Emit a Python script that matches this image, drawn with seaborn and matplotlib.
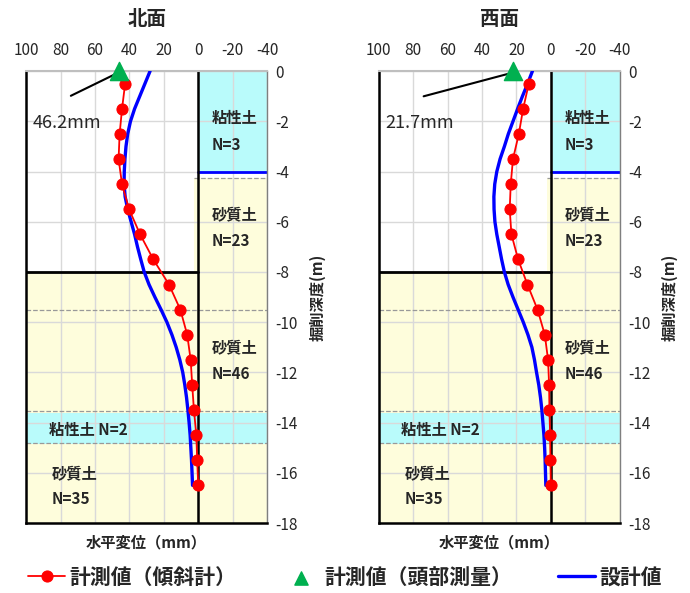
"""Inclinometer horizontal displacement vs. excavation depth (north / west faces)."""

import matplotlib.pyplot as plt
import pandas as pd
import seaborn as sns

# measured depth points (m)
depth = [-0.5, -1.5, -2.5, -3.5, -4.5, -5.5, -6.5, -7.5, -8.5,
         -9.5, -10.5, -11.5, -12.5, -13.5, -14.5, -15.5, -16.5]
north_meas = [42.5, 44.3, 45.7, 46.3, 44.3, 40.2, 33.8, 26.1, 17.0,
              10.4, 6.4, 4.4, 3.5, 2.5, 1.1, 0.6, 0.0]
west_meas = [12.8, 16.1, 18.6, 22.0, 23.3, 23.9, 22.9, 19.0, 13.6,
             7.7, 3.5, 1.6, 1.0, 0.8, 0.4, 0.2, 0.0]

# design curve, read every 0.5 m
design_depth = [0, -0.5, -1, -1.5, -2, -2.5, -3, -3.5, -4, -4.5, -5, -5.5,
                -6, -6.5, -7, -7.5, -8, -8.5, -9, -9.5, -10, -10.5, -11,
                -11.5, -12, -12.5, -13, -13.5, -14, -14.5, -15, -15.5, -16,
                -16.5]
north_design = [28.0, 31.0, 34.0, 37.0, 39.4, 41.0, 42.0, 42.6, 43.0, 43.1,
                42.5, 41.0, 39.0, 37.0, 35.3, 33.4, 31.4, 28.6, 25.2, 21.6,
                18.2, 15.3, 12.8, 10.7, 9.0, 7.8, 6.8, 6.0, 5.3, 4.7, 4.3,
                3.9, 3.6, 3.3]
west_design = [10.7, 13.5, 16.5, 19.3, 22.0, 24.7, 27.0, 29.5, 31.4, 32.6,
               33.1, 33.0, 32.5, 31.4, 30.0, 28.6, 27.0, 24.8, 22.0, 19.0,
               16.0, 13.3, 11.0, 9.5, 8.3, 7.0, 6.0, 5.2, 4.6, 4.0, 3.6,
               3.3, 3.1, 2.9]

# head survey
north_head = 46.2
west_head = 21.7

faces = ["北面", "西面"]
x_ticks = [100, 80, 60, 40, 20, 0, -20, -40]
y_ticks = [0, -2, -4, -6, -8, -10, -12, -14, -16, -18]

# soil layer labels: (x, y, text)
soil_labels = [
    (-8, -1.85, "粘性土"), (-8, -2.95, "N=3"),
    (-8, -5.75, "砂質土"), (-8, -6.75, "N=23"),
    (-8, -11.05, "砂質土"), (-8, -12.05, "N=46"),
    (87, -14.3, "粘性土 N=2"),
    (85, -16.05, "砂質土"), (85, -17.05, "N=35"),
]

sns.set_theme(style="white")
plt.rcParams["font.family"] = ["Noto Sans CJK JP", "DejaVu Sans"]
plt.rcParams["axes.unicode_minus"] = False

CYAN = "#b9fbfb"
YELLOW = "#fefddc"

fig = plt.figure(figsize=(6.9, 5.93), dpi=100)
ax_l = fig.add_axes([0.038, 0.118, 0.349, 0.762])
ax_r = fig.add_axes([0.549, 0.118, 0.349, 0.762])

panels = [
    (ax_l, north_meas, north_design, north_head),
    (ax_r, west_meas, west_design, west_head),
]

for i, (ax, meas, design, head) in enumerate(panels):
    # soil backgrounds
    ax.fill_between([0, -40], 0, -4, color=CYAN, zorder=0, lw=0)
    ax.fill_between([2.5, -40], -4.25, -18, color=YELLOW, zorder=0, lw=0)
    ax.fill_between([100, 0], -8, -18, color=YELLOW, zorder=0, lw=0)
    ax.fill_between([100, -40], -13.6, -14.85, color=CYAN, zorder=0.2, lw=0)
    for yy in (-9.5, -13.55, -14.8):
        ax.plot([100, -40], [yy, yy], ls="--", lw=0.9, color="#999999", zorder=1)
    ax.plot([2.5, -40], [-4.25, -4.25], ls="--", lw=0.9, color="#999999", zorder=1)
    ax.plot([0, -40], [-4, -4], color="#0000ff", lw=2, zorder=1.5)
    ax.plot([100, 0], [-8, -8], color="black", lw=2, zorder=1.5)
    ax.plot([0, 0], [0, -18], color="black", lw=1.8, zorder=1.5)

    df_m = pd.DataFrame({"disp": meas, "depth": depth})
    df_d = pd.DataFrame({"disp": design, "depth": design_depth})
    sns.lineplot(data=df_d, x="disp", y="depth", sort=False, estimator=None,
                 color="#0000ff", lw=2.4, ax=ax, zorder=3, label="設計値")
    sns.lineplot(data=df_m, x="disp", y="depth", sort=False, estimator=None,
                 color="#ff0000", lw=1.3, marker="o", markersize=8,
                 markeredgecolor="#ff0000", ax=ax, zorder=4,
                 label="計測値（傾斜計）")
    sns.scatterplot(x=[head], y=[0], marker="^", s=170, color="#00b050",
                    edgecolor="#00b050", ax=ax, zorder=5, clip_on=False,
                    label="計測値（頭部測量）")

    # head survey annotation
    ax.annotate("", xy=(head, -0.05), xytext=(75.5, -1.03),
                arrowprops=dict(arrowstyle="-", color="black", lw=1.5))
    ax.text(96.5, -2.07, f"{head}mm", fontsize=13, ha="left", va="center")

    for tx, ty, t in soil_labels:
        ax.text(tx, ty, t, fontsize=11, fontweight="bold", ha="left",
                va="center", zorder=6)

    ax.set_xlim(100, -40)
    ax.set_ylim(-18, 0)
    ax.set_xticks(x_ticks)
    ax.set_yticks(y_ticks)
    ax.xaxis.tick_top()
    ax.yaxis.tick_right()
    ax.yaxis.set_label_position("right")
    ax.tick_params(axis="x", length=0, labelsize=11, pad=9)
    ax.tick_params(axis="y", length=0, labelsize=11, pad=6)
    ax.grid(True, color="#d9d9d9", lw=1)
    ax.set_axisbelow(True)
    ax.set_title(faces[i], fontsize=14, fontweight="bold", pad=33)
    ax.set_xlabel("水平変位（mm）", fontsize=11, fontweight="bold", labelpad=8)
    ax.set_ylabel("掘削深度(m)", fontsize=11, fontweight="bold", labelpad=8)
    for side in ("left", "bottom"):
        ax.spines[side].set_color("black")
        ax.spines[side].set_linewidth(1.8)
    ax.spines["top"].set_color("#bfbfbf")
    ax.spines["top"].set_linewidth(1.5)
    ax.spines["right"].set_color("#7f7f7f")
    ax.spines["right"].set_linewidth(1.0)

handles, labels = ax_l.get_legend_handles_labels()
order = [labels.index(k) for k in ["計測値（傾斜計）", "計測値（頭部測量）", "設計値"]]
for ax in (ax_l, ax_r):
    ax.get_legend().remove()
leg = fig.legend([handles[k] for k in order], [labels[k] for k in order],
                 loc="center", bbox_to_anchor=(0.5, 0.027), ncol=3,
                 frameon=False, handlelength=1.8, handletextpad=0.2,
                 columnspacing=2.2, prop={"weight": "bold", "size": 15})
leg.legend_handles[1].set_sizes([90])

fig.savefig("out.png", dpi=100)
plt.close(fig)
